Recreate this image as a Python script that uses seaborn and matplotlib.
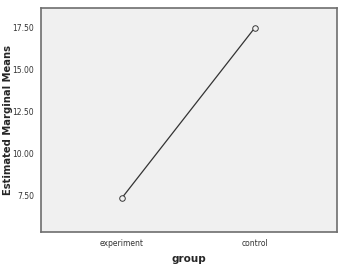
import matplotlib
matplotlib.use("Agg")
import matplotlib.pyplot as plt
import seaborn as sns
import pandas as pd

# data
groups = ["experiment", "control"]
means = [7.38, 17.45]
y_ticks = [7.5, 10.0, 12.5, 15.0, 17.5]

df = pd.DataFrame({"group": groups, "mean": means})

sns.set_style("white")
plt.rcParams["font.family"] = ["DejaVu Sans"]

fig = plt.figure(figsize=(3.39, 2.65), dpi=100)
ax = fig.add_axes([41 / 339, 1 - 232 / 265, 296 / 339, 224 / 265])
ax.set_facecolor("#f0f0f0")

sns.pointplot(data=df, x="group", y="mean", ax=ax, color="#333333",
              markers="o", linestyles="-", errorbar=None,
              markersize=4, linewidth=0.9)
# hollow markers
for ln in ax.lines:
    ln.set_markerfacecolor("#f0f0f0")
    ln.set_markeredgecolor("#333333")

ax.set_xlim(-0.61, 1.62)
ax.set_ylim(5.36, 18.63)
ax.set_yticks(y_ticks)
ax.set_yticklabels([f"{v:.2f}" for v in y_ticks])

ax.tick_params(axis="both", labelsize=5.5, colors="#333333", length=3,
               width=0.8, direction="out", pad=2)
for s in ax.spines.values():
    s.set_color("#6e6e6e")
    s.set_linewidth(1.2)

ax.set_xlabel("group", fontsize=7.5, fontweight="bold", va="center")
ax.set_ylabel("Estimated Marginal Means", fontsize=7.2, fontweight="bold",
              va="center")
ax.xaxis.set_label_coords(0.5, -0.12)
ax.yaxis.set_label_coords(-0.11, 0.5)

fig.savefig("out.png", dpi=100)
